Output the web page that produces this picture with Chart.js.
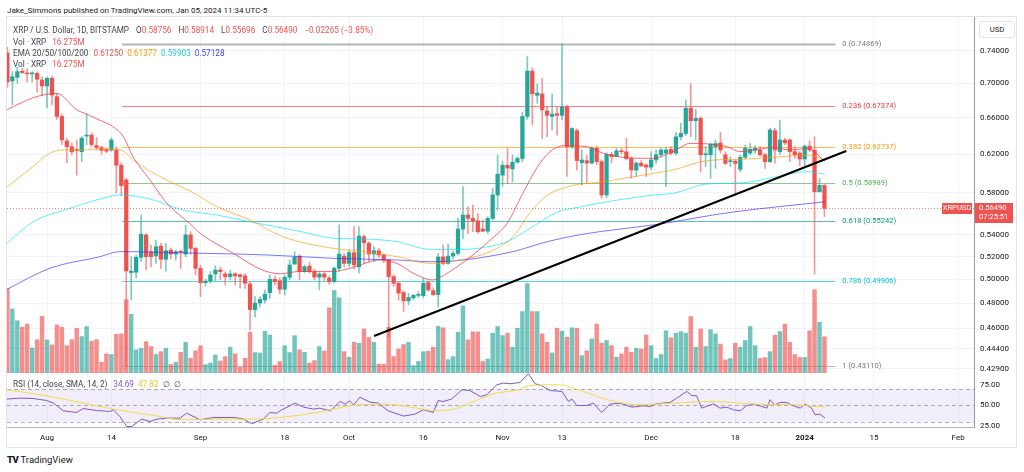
<!DOCTYPE html>
<html>
<head>
<meta charset="utf-8">
<script src="https://cdn.jsdelivr.net/npm/chart.js@4.4.1/dist/chart.umd.min.js"></script>
<style>
  html, body { margin: 0; padding: 0; background: #fff; }
  body { width: 1024px; height: 472px; position: relative; overflow: hidden; font-family: Roboto, "Noto Sans", sans-serif; color: #131722; }
  .abs { position: absolute; white-space: nowrap; }
  .leg { font-size: 8.2px; line-height: 10px; color: #434651; }
  .leg span { margin-left: 4px; }
  .leg span.k { margin-left: 7px; }
  .leg span.v { margin-left: 0; }
  .r { color: #ef5350; } .o { color: #ff9800; } .c { color: #26c6da; } .b { color: #3f3fff; }
  .p { color: #7e57c2; } .y { color: #e9c53a; }
  #frame { position: absolute; left: 6px; top: 16px; width: 1011px; height: 432px; border: 1px solid #e0e3eb; box-sizing: border-box; }
  #c1 { position: absolute; left: 7px; top: 17px; }
  #c2 { position: absolute; left: 7px; top: 373px; }
</style>
</head>
<body>
<div id="frame"></div>
<canvas id="c1" width="1009" height="356"></canvas>
<canvas id="c2" width="1009" height="74"></canvas>

<div class="abs" style="left:7px;top:6px;font-size:8px;color:#131722">Jake_Simmons published on TradingView.com, Jan 05, 2024 11:34 UTC-5</div>
<div class="abs leg" style="left:13px;top:25px">XRP / U.S. Dollar, 1D, BITSTAMP<span class="k">O</span><span class="r v">0.58756</span><span class="k">H</span><span class="r v">0.58914</span><span class="k">L</span><span class="r v">0.55696</span><span class="k">C</span><span class="r v">0.56490</span><span class="r k">−0.02265 (−3.85%)</span></div>
<div class="abs leg" style="left:13px;top:37px">Vol · XRP<span class="r" style="margin-left:6px">16.275M</span></div>
<div class="abs leg" style="left:13px;top:48px">EMA 20/50/100/200<span class="r" style="margin-left:5px">0.61250</span><span class="o">0.61377</span><span class="c">0.59903</span><span class="b">0.57128</span></div>
<div class="abs leg" style="left:13px;top:59px">Vol · XRP<span class="r" style="margin-left:6px">16.275M</span></div>
<div class="abs leg" style="left:13px;top:379px">RSI (14, close, SMA, 14, 2)<span class="p" style="margin-left:6px">34.69</span><span class="y">47.82</span><span>∅</span><span>∅</span></div>
<div class="abs" style="left:979px;top:21px;width:34px;height:15px;border:1px solid #e0e3eb;border-radius:3px;font-size:7.6px;line-height:15px;text-align:center;color:#131722;background:#fff">USD</div>
<div class="abs" style="left:7px;top:454px;font-size:9.5px;color:#131722"><b style="font-weight:900;letter-spacing:-0.5px">TV</b> TradingView</div>

<script>
// days are counted from Aug 1 2023; first candle is Jul 24 2023
const firstDay = -8;
const openP = [
  0.7377, 0.7028, 0.7074, 0.7147, 0.7120, 0.7115, 0.7120, 0.7041, 0.6968, 0.7061,
  0.6842, 0.6614, 0.6342, 0.6280, 0.6250, 0.6226, 0.6395, 0.6405, 0.6290, 0.6270,
  0.6248, 0.6244, 0.6244, 0.6083, 0.5931, 0.5060, 0.5063, 0.5194, 0.5397, 0.5243,
  0.5206, 0.5295, 0.5176, 0.5259, 0.5223, 0.5244, 0.5223, 0.5397, 0.5274, 0.5097,
  0.4973, 0.4988, 0.5048, 0.5082, 0.5048, 0.5025, 0.5048, 0.5040, 0.5031, 0.4962,
  0.4748, 0.4802, 0.4827, 0.4888, 0.5002, 0.4990, 0.4917, 0.5019, 0.5135, 0.5205,
  0.5068, 0.5117, 0.5068, 0.5020, 0.5048, 0.5013, 0.4982, 0.5097, 0.5205, 0.5140,
  0.5236, 0.5110, 0.5381, 0.5320, 0.5223, 0.5253, 0.5215, 0.5170, 0.5025, 0.4968,
  0.4890, 0.4820, 0.4845, 0.4866, 0.4863, 0.4973, 0.4905, 0.4872, 0.5197, 0.5140,
  0.5205, 0.5229, 0.5452, 0.5585, 0.5553, 0.5530, 0.5452, 0.5432, 0.5553, 0.5780,
  0.5980, 0.6082, 0.6045, 0.6115, 0.6153, 0.6614, 0.7149, 0.6857, 0.6874, 0.6677,
  0.6614, 0.6645, 0.6626, 0.6722, 0.6280, 0.6455, 0.6110, 0.6131, 0.6105, 0.6262,
  0.6120, 0.5780, 0.6197, 0.6175, 0.6235, 0.6225, 0.6153, 0.6033, 0.6105, 0.6086,
  0.6063, 0.6138, 0.6193, 0.6210, 0.6251, 0.6210, 0.6387, 0.6424, 0.6708, 0.6566,
  0.6594, 0.6193, 0.6193, 0.6280, 0.6320, 0.6193, 0.6120, 0.6125, 0.6040, 0.6166,
  0.6210, 0.6240, 0.6244, 0.6193, 0.6120, 0.6455, 0.6227, 0.6352, 0.6352, 0.6227,
  0.6210, 0.6148, 0.6285, 0.6244, 0.5812, 0.58756
];
const highP = [
  0.7450, 0.7142, 0.7200, 0.7180, 0.7180, 0.7140, 0.7140, 0.7080, 0.7080, 0.7090,
  0.6880, 0.6640, 0.6370, 0.6320, 0.6352, 0.6390, 0.6642, 0.6430, 0.6380, 0.6290,
  0.6270, 0.6375, 0.6280, 0.6110, 0.5950, 0.5200, 0.5215, 0.5585, 0.5413, 0.5304,
  0.5350, 0.5320, 0.5320, 0.5280, 0.5258, 0.5258, 0.5490, 0.5427, 0.5285, 0.5125,
  0.5002, 0.5068, 0.5118, 0.5110, 0.5068, 0.5080, 0.5060, 0.5050, 0.5050, 0.4980,
  0.4855, 0.4855, 0.4911, 0.5040, 0.5030, 0.5015, 0.5040, 0.5170, 0.5245, 0.5215,
  0.5126, 0.5150, 0.5090, 0.5070, 0.5070, 0.5030, 0.5110, 0.5490, 0.5230, 0.5260,
  0.5474, 0.5476, 0.5397, 0.5335, 0.5290, 0.5275, 0.5225, 0.5180, 0.5040, 0.4980,
  0.4905, 0.4883, 0.4875, 0.4897, 0.5010, 0.4990, 0.4930, 0.5229, 0.5304, 0.5313,
  0.5250, 0.5553, 0.5863, 0.5665, 0.5680, 0.5601, 0.5537, 0.5569, 0.5847, 0.6190,
  0.6120, 0.6260, 0.6190, 0.6173, 0.6660, 0.7329, 0.7190, 0.6996, 0.7060, 0.6726,
  0.6873, 0.6726, 0.74869, 0.6745, 0.6490, 0.6475, 0.6244, 0.6190, 0.6280, 0.6280,
  0.6140, 0.6215, 0.6220, 0.6262, 0.6260, 0.6370, 0.6170, 0.6120, 0.6131, 0.6095,
  0.6226, 0.6244, 0.6262, 0.6270, 0.6280, 0.6434, 0.6537, 0.6803, 0.6996, 0.6697,
  0.6610, 0.6280, 0.6320, 0.6352, 0.6434, 0.6226, 0.6170, 0.6140, 0.6190, 0.6297,
  0.6315, 0.6288, 0.6280, 0.6210, 0.6480, 0.6480, 0.6574, 0.6370, 0.6365, 0.6280,
  0.6230, 0.6300, 0.6344, 0.6388, 0.5948, 0.58914
];
const lowP = [
  0.6950, 0.6745, 0.7000, 0.7120, 0.7017, 0.7017, 0.6897, 0.6850, 0.6710, 0.6745,
  0.6580, 0.6300, 0.6107, 0.6190, 0.5980, 0.6120, 0.6300, 0.6280, 0.6244, 0.6200,
  0.6215, 0.6230, 0.5800, 0.5773, 0.4311, 0.4827, 0.5013, 0.5155, 0.5082, 0.5110,
  0.5140, 0.5097, 0.5073, 0.5180, 0.5170, 0.5097, 0.5199, 0.5220, 0.5040, 0.4855,
  0.4945, 0.4968, 0.4990, 0.4996, 0.4953, 0.5000, 0.4953, 0.4928, 0.4925, 0.4585,
  0.4690, 0.4770, 0.4800, 0.4840, 0.4953, 0.4877, 0.4869, 0.4996, 0.5126, 0.4996,
  0.5060, 0.5055, 0.4996, 0.4911, 0.4990, 0.4960, 0.4968, 0.5070, 0.5110, 0.5110,
  0.5090, 0.5055, 0.5141, 0.5155, 0.5155, 0.5190, 0.5147, 0.4527, 0.4940, 0.4827,
  0.4731, 0.4786, 0.4830, 0.4845, 0.4845, 0.4900, 0.4865, 0.4772, 0.5126, 0.5130,
  0.5180, 0.5215, 0.5365, 0.5412, 0.5427, 0.5412, 0.5427, 0.5412, 0.5537, 0.5633,
  0.5870, 0.5896, 0.5913, 0.6105, 0.6120, 0.6580, 0.6518, 0.6765, 0.6367, 0.6388,
  0.6462, 0.6405, 0.6574, 0.5966, 0.6262, 0.6033, 0.5880, 0.5896, 0.6098, 0.6090,
  0.5747, 0.5750, 0.6105, 0.6170, 0.6200, 0.6138, 0.5948, 0.5966, 0.6068, 0.5966,
  0.6033, 0.6100, 0.6170, 0.5863, 0.6190, 0.6193, 0.6352, 0.6400, 0.6388, 0.6352,
  0.6013, 0.6068, 0.5948, 0.6050, 0.6210, 0.6086, 0.6068, 0.5780, 0.6016, 0.6148,
  0.6190, 0.6210, 0.6175, 0.6050, 0.6110, 0.6105, 0.6193, 0.6300, 0.6120, 0.6155,
  0.6075, 0.6068, 0.6226, 0.5048, 0.5810, 0.55696
];
const closeP = [
  0.7017, 0.7081, 0.7142, 0.7130, 0.7115, 0.7120, 0.7050, 0.6968, 0.7061, 0.6862,
  0.6614, 0.6352, 0.6280, 0.6226, 0.6240, 0.6372, 0.6405, 0.6303, 0.6270, 0.6240,
  0.6232, 0.6352, 0.6083, 0.5874, 0.5074, 0.5072, 0.5194, 0.5404, 0.5200, 0.5200,
  0.5289, 0.5176, 0.5253, 0.5223, 0.5244, 0.5240, 0.5397, 0.5274, 0.5097, 0.4973,
  0.4987, 0.5039, 0.5082, 0.5068, 0.5025, 0.5048, 0.5032, 0.5025, 0.4968, 0.4748,
  0.4802, 0.4833, 0.4876, 0.5002, 0.4982, 0.4917, 0.5019, 0.5126, 0.5194, 0.5068,
  0.5111, 0.5068, 0.5020, 0.5048, 0.5020, 0.4982, 0.5097, 0.5223, 0.5140, 0.5236,
  0.5126, 0.5387, 0.5326, 0.5223, 0.5253, 0.5215, 0.5170, 0.5025, 0.4968, 0.4885,
  0.4820, 0.4848, 0.4866, 0.4872, 0.4968, 0.4911, 0.4872, 0.5197, 0.5140, 0.5205,
  0.5229, 0.5452, 0.5585, 0.5553, 0.5530, 0.5427, 0.5432, 0.5553, 0.5780, 0.5990,
  0.6082, 0.6053, 0.6115, 0.6153, 0.6614, 0.7149, 0.6874, 0.6885, 0.6688, 0.6626,
  0.6640, 0.6626, 0.6722, 0.6280, 0.6478, 0.6131, 0.6138, 0.6105, 0.6262, 0.6120,
  0.5780, 0.6197, 0.6175, 0.6235, 0.6225, 0.6153, 0.6033, 0.6105, 0.6075, 0.6063,
  0.6138, 0.6193, 0.6244, 0.6244, 0.6210, 0.6387, 0.6424, 0.6708, 0.6566, 0.6594,
  0.6193, 0.6200, 0.6306, 0.6314, 0.6244, 0.6102, 0.6125, 0.6102, 0.6166, 0.6262,
  0.6251, 0.6262, 0.6193, 0.6120, 0.6462, 0.6244, 0.6352, 0.6323, 0.6227, 0.6193,
  0.6148, 0.6285, 0.6244, 0.5812, 0.5876, 0.5649
];
// volume, millions of XRP
const volumeM = [
  37.8, 28.8, 23.5, 20.6, 22.0, 11.3, 14.9, 25.5, 14.9, 12.6,
  21.6, 20.6, 12.3, 15.0, 20.1, 16.4, 20.9, 14.3, 15.0, 4.8,
  8.6, 8.3, 17.4, 17.6, 32.9, 26.4, 10.4, 11.1, 14.1, 11.9,
  8.3, 9.6, 11.1, 3.8, 4.8, 9.3, 13.8, 6.6, 10.0, 12.2,
  3.8, 4.5, 8.1, 5.4, 7.4, 11.6, 8.6, 2.6, 6.6, 18.3,
  9.2, 9.0, 18.8, 17.1, 3.5, 5.1, 12.3, 9.2, 16.8, 10.4,
  9.3, 4.5, 5.6, 11.9, 9.9, 29.3, 37.1, 33.8, 9.6, 7.1,
  13.8, 13.4, 19.8, 16.0, 13.8, 4.0, 4.0, 20.6, 7.4, 10.8,
  12.8, 13.8, 3.3, 5.2, 9.6, 9.8, 11.6, 21.0, 20.3, 6.0,
  7.4, 18.3, 30.2, 14.9, 18.5, 18.5, 5.2, 6.3, 17.9, 20.9,
  16.8, 17.9, 11.6, 20.1, 27.6, 40.2, 27.6, 27.6, 17.6, 13.8,
  9.0, 20.1, 18.8, 16.1, 20.3, 20.1, 7.8, 10.0, 15.3, 22.0,
  13.4, 14.6, 12.3, 7.1, 8.6, 11.6, 9.3, 11.1, 10.8, 17.1,
  12.3, 6.5, 8.3, 19.0, 15.8, 17.9, 18.6, 17.9, 25.4, 11.6,
  19.8, 11.9, 19.5, 17.6, 13.0, 5.9, 6.5, 13.4, 11.6, 14.6,
  20.9, 12.3, 6.6, 6.9, 9.6, 17.0, 18.6, 22.0, 13.8, 8.3,
  7.0, 7.0, 19.0, 37.4, 22.8, 16.275
];

// EMA lines at sample days
const ema20Days = [-8.1, -2.8, 0, 2, 6, 8, 10.7, 13.3, 15.4, 17.4, 20.8, 24.2, 28.9, 31, 37.6, 43.6, 47.1, 51.1, 57.8, 61.2, 67.3, 70.7, 73.9, 78, 79.4, 82.8, 86, 89.5, 92.9, 96.1, 99, 101.6, 104.2, 109, 112.3, 115.7, 122.4, 126.4, 129.9, 133.3, 137.3, 140, 143.4, 146.6, 150.1, 153.5, 157.1];
const ema20 = [0.669, 0.683, 0.687, 0.688, 0.669, 0.664, 0.657, 0.650, 0.639, 0.617, 0.593, 0.570, 0.550, 0.541, 0.523, 0.508, 0.505, 0.507, 0.507, 0.5097, 0.517, 0.514, 0.5055, 0.4996, 0.502, 0.511, 0.5215, 0.535, 0.5505, 0.5797, 0.6062, 0.6226, 0.629, 0.628, 0.621, 0.617, 0.6155, 0.6226, 0.6315, 0.631, 0.628, 0.6226, 0.625, 0.627, 0.6244, 0.626, 0.6125];
const ema50Days = [-8.1, -2.8, 0.6, 3.2, 7.3, 12.7, 15.4, 17.4, 24.2, 28.9, 34.3, 41, 47.7, 57.8, 63.8, 70.7, 77.4, 84, 89.5, 94.1, 97.6, 101, 105.6, 112.3, 122.4, 126.4, 133.3, 140, 146.6, 153.5, 157.1];
const ema50 = [0.586, 0.607, 0.621, 0.6244, 0.6244, 0.626, 0.6235, 0.6138, 0.593, 0.582, 0.5667, 0.5537, 0.538, 0.5274, 0.5245, 0.520, 0.514, 0.5176, 0.5245, 0.538, 0.5611, 0.5775, 0.5868, 0.5913, 0.5998, 0.6033, 0.6131, 0.6145, 0.6165, 0.619, 0.6138];
const ema100Days = [-8.1, -2.8, 4, 10.7, 14.7, 20.8, 27.5, 34.3, 41, 51.1, 57.8, 63.8, 70.7, 77.4, 84, 88.9, 92.9, 97.6, 103, 107.7, 122.4, 126.4, 133.3, 140, 146.6, 153.5, 157.1];
const ema100 = [0.532, 0.552, 0.564, 0.574, 0.578, 0.574, 0.5633, 0.5585, 0.552, 0.543, 0.5367, 0.536, 0.5335, 0.5265, 0.5265, 0.5288, 0.5335, 0.546, 0.5611, 0.5664, 0.578, 0.5797, 0.589, 0.590, 0.5955, 0.6016, 0.599];
const ema200Days = [-8.1, 0.6, 10.7, 14.7, 30.9, 44.4, 57.8, 70.7, 77.4, 84, 94.1, 101, 107.7, 123.8, 138, 157.1];
const ema200 = [0.4917, 0.5097, 0.520, 0.5245, 0.523, 0.5215, 0.5185, 0.517, 0.5155, 0.517, 0.5245, 0.5335, 0.540, 0.550, 0.561, 0.5713];

// RSI (14) and its SMA (14), read at sample days
const rsiDays = [-8.1, -5.5, -2.8, -0.1, 1.3, 3.3, 6, 7.3, 10, 12.7, 13.4, 14.7, 16.1, 17.1, 19.1, 20.8, 22.2, 24.2, 26.9, 28.2, 30.9, 33.6, 37.6, 39.6, 41.3, 43.7, 45, 46.4, 47.4, 50.1, 51.8, 53.8, 55.1, 57.2, 59.2, 60.2, 61.1, 61.9, 63.2, 65.2, 66.9, 68.9, 72, 74.3, 76, 78, 79, 80, 81.7, 83.8, 85.4, 87.5, 88.8, 90.8, 92.2, 93.5, 95.5, 97.2, 98.6, 99.9, 101.6, 104, 105.3, 106, 107, 109, 110.3, 112, 113.7, 115.7, 118.1, 120.4, 121.8, 123.1, 125.8, 127.2, 129.2, 130.2, 131.2, 132.2, 133.5, 134.6, 135.9, 137.3, 138.6, 140, 141.3, 142.7, 145.4, 146, 147, 148, 149.4, 150.7, 152.1, 153.1, 154.4, 155.1, 156.1, 157.1];
const rsiVals = [57.8, 59.0, 58.5, 56.1, 52.9, 43.5, 41.5, 46.3, 43.9, 42.7, 44.8, 36.6, 24.4, 24.4, 33.4, 30.5, 33.4, 34.6, 34.6, 40.7, 32.6, 35.4, 35.4, 33.8, 27.7, 33.4, 41.5, 40.7, 44.8, 52.9, 48.0, 45.6, 46.8, 43.5, 54.9, 51.7, 55.7, 50.9, 60.2, 54.1, 52.9, 43.5, 37.1, 39.5, 44.8, 41.5, 56.1, 54.9, 57.8, 69.1, 68.3, 61.0, 63.0, 75.2, 77.3, 76.5, 78.0, 88.7, 76.5, 74.0, 68.3, 67.1, 54.9, 57.8, 50.0, 50.0, 52.9, 41.5, 51.7, 52.9, 48.0, 49.6, 48.8, 52.1, 53.7, 59.0, 67.1, 62.2, 61.8, 46.8, 49.6, 52.1, 46.8, 48.0, 44.8, 43.5, 50.0, 51.7, 46.8, 57.0, 50.9, 53.7, 53.7, 49.6, 46.8, 51.7, 46.8, 38.7, 39.5, 34.69];
const smaDays = [-8.1, -0.1, 7.3, 14.1, 20.8, 27.5, 34.3, 41, 47.7, 54.5, 61.2, 68, 74.7, 78, 82.1, 86.1, 90.8, 95.2, 97.5, 103.3, 108.3, 113.7, 119.8, 126.5, 134.6, 142.7, 150.7, 157.1];
const smaVals = [69.1, 61.8, 52.9, 44.8, 38.7, 32.6, 33.4, 33.4, 35.8, 41.5, 49.6, 51.7, 46.8, 43.9, 45.6, 54.9, 65.1, 69.1, 74.4, 75.2, 67.1, 56.1, 50.9, 52.9, 54.9, 51.7, 50.9, 47.82];

// Fibonacci retracement drawn on the chart
const fibLevels = ['0', '0.236', '0.382', '0.5', '0.618', '0.786', '1'];
const fibPrices = [0.74869, 0.67374, 0.62737, 0.58989, 0.55242, 0.49906, 0.43110];
const fibColors = ['#9598a1', '#f23645', '#ff9800', '#4caf50', '#089981', '#00bcd4', '#9598a1'];
const fibStartDay = 15.15, fibEndDay = 159.2;
// hand-drawn trend line
const trendDays = [66.05, 161.4];
const trendPrices = [0.4538, 0.6233];

const priceTicks = [0.429, 0.444, 0.46, 0.48, 0.50, 0.52, 0.54, 0.58, 0.62, 0.66, 0.70, 0.74];
const dateTickDays = [0, 13, 31, 48, 61, 76, 92, 104, 122, 139, 153, 167, 184];
const dateTickLabels = ['Aug', '14', 'Sep', '18', 'Oct', '16', 'Nov', '13', 'Dec', '18', '2024', '15', 'Feb'];

const X_MIN = -8.08, X_MAX = 187.2;
const GREEN = '#26a69a', RED = '#ef5350';
const FONT = 'Roboto, "Noto Sans", sans-serif';
const GRID = '#f0f3fa';

const days = openP.map((_, i) => firstDay + i);
const isUp = i => closeP[i] >= openP[i];
// keep the plot area exactly at the canvas edges
const noPad = s => { s.paddingTop = 0; s.paddingBottom = 0; s.paddingLeft = 0; s.paddingRight = 0; };

const overlay1 = {
  id: 'overlay1',
  beforeDatasetsDraw(chart) {
    const { ctx, chartArea: a, scales: { x, y } } = chart;
    ctx.save();
    const x0 = x.getPixelForValue(fibStartDay), x1 = x.getPixelForValue(fibEndDay);
    ctx.font = '7.6px ' + FONT;
    ctx.textBaseline = 'middle';
    fibLevels.forEach((lvl, i) => {
      const py = Math.round(y.getPixelForValue(fibPrices[i])) + 0.5;
      ctx.globalAlpha = i === 0 ? 0.7 : 0.65;
      ctx.strokeStyle = fibColors[i];
      ctx.lineWidth = i === 0 ? 2 : 1;
      ctx.beginPath(); ctx.moveTo(x0, py); ctx.lineTo(x1, py); ctx.stroke();
      ctx.globalAlpha = 1;
      ctx.fillStyle = fibColors[i] === '#9598a1' ? '#787b86' : fibColors[i];
      ctx.fillText(lvl + ' (' + fibPrices[i].toFixed(5) + ')', x1 + 7, py);
    });
    // last price dotted line
    const lp = Math.round(y.getPixelForValue(closeP[closeP.length - 1])) + 0.5;
    ctx.strokeStyle = 'rgba(239,83,80,0.75)';
    ctx.lineWidth = 1;
    ctx.setLineDash([1, 2]);
    ctx.beginPath(); ctx.moveTo(a.left, lp); ctx.lineTo(a.right, lp); ctx.stroke();
    ctx.restore();
  },
  afterDraw(chart) {
    const { ctx, chartArea: a, scales: { y } } = chart;
    const last = closeP[closeP.length - 1];
    const lp = Math.round(y.getPixelForValue(last));
    ctx.save();
    ctx.fillStyle = RED;
    ctx.fillRect(a.right - 32, lp - 5, 30, 11);
    ctx.fillRect(a.right + 1, lp - 5, 38, 20);
    ctx.fillStyle = '#fff';
    ctx.font = '7.6px ' + FONT;
    ctx.textBaseline = 'middle';
    ctx.textAlign = 'center';
    ctx.fillText('XRPUSD', a.right - 17, lp + 0.5);
    ctx.textAlign = 'left';
    ctx.fillText(last.toFixed(5), a.right + 5, lp + 0.5);
    ctx.fillText('07:25:51', a.right + 5, lp + 9.5);
    ctx.restore();
  }
};

new Chart(document.getElementById('c1'), {
  type: 'bar',
  data: {
    datasets: [
      {
        label: 'Volume', yAxisID: 'vol', order: 10, grouped: false, barThickness: 3.8,
        data: volumeM.map((v, i) => ({ x: days[i], y: v })),
        backgroundColor: volumeM.map((v, i) => isUp(i) ? 'rgba(38,166,154,0.65)' : 'rgba(239,83,80,0.65)')
      },
      {
        label: 'Wicks', yAxisID: 'y', order: 6, grouped: false, barThickness: 1,
        data: lowP.map((v, i) => ({ x: days[i], y: [v, highP[i]] })),
        backgroundColor: openP.map((v, i) => isUp(i) ? 'rgba(38,166,154,0.6)' : 'rgba(239,83,80,0.6)')
      },
      {
        label: 'Bodies', yAxisID: 'y', order: 5, grouped: false, barThickness: 3.6, minBarLength: 1,
        data: openP.map((v, i) => ({ x: days[i], y: [v, closeP[i]] })),
        backgroundColor: openP.map((v, i) => isUp(i) ? GREEN : RED)
      },
      { type: 'line', label: 'EMA20', yAxisID: 'y', order: 3, data: ema20Days.map((d, i) => ({ x: d, y: ema20[i] })), borderColor: 'rgba(242,54,69,0.75)', borderWidth: 1, pointRadius: 0, cubicInterpolationMode: 'monotone' },
      { type: 'line', label: 'EMA50', yAxisID: 'y', order: 3, data: ema50Days.map((d, i) => ({ x: d, y: ema50[i] })), borderColor: 'rgba(255,152,0,0.65)', borderWidth: 1, pointRadius: 0, cubicInterpolationMode: 'monotone' },
      { type: 'line', label: 'EMA100', yAxisID: 'y', order: 3, data: ema100Days.map((d, i) => ({ x: d, y: ema100[i] })), borderColor: 'rgba(0,229,255,0.65)', borderWidth: 1, pointRadius: 0, cubicInterpolationMode: 'monotone' },
      { type: 'line', label: 'EMA200', yAxisID: 'y', order: 3, data: ema200Days.map((d, i) => ({ x: d, y: ema200[i] })), borderColor: 'rgba(48,48,255,0.65)', borderWidth: 1, pointRadius: 0, cubicInterpolationMode: 'monotone' },
      { type: 'line', label: 'Trend', yAxisID: 'y', order: 1, data: trendDays.map((d, i) => ({ x: d, y: trendPrices[i] })), borderColor: '#000', borderWidth: 2, pointRadius: 0 }
    ]
  },
  options: {
    responsive: false, animation: false, events: [],
    layout: { padding: 0 },
    plugins: { legend: { display: false }, tooltip: { enabled: false } },
    scales: {
      x: {
        type: 'linear', min: X_MIN, max: X_MAX, offset: false,
        afterBuildTicks: s => { s.ticks = dateTickDays.map(v => ({ value: v })); },
        ticks: { display: false },
        grid: { color: GRID, drawTicks: false, offset: false },
        border: { display: true, color: '#d1d4dc' },
        afterFit: s => { s.height = 0; noPad(s); }
      },
      y: {
        type: 'logarithmic', position: 'right', min: 0.4259, max: 0.7844, bounds: 'data',
        afterBuildTicks: s => { s.ticks = priceTicks.map(v => ({ value: v })); },
        ticks: { callback: v => Number(v).toFixed(5), font: { family: FONT, size: 8 }, color: '#131722', padding: 6, autoSkip: false },
        grid: { color: GRID, drawTicks: false },
        border: { display: true, color: '#9598a1' },
        afterFit: s => { s.width = 42; noPad(s); }
      },
      vol: { type: 'linear', display: false, min: 0, max: 160 }
    }
  },
  plugins: [overlay1]
});

const rsiBands = {
  id: 'rsiBands',
  beforeDatasetsDraw(chart) {
    const { ctx, chartArea: a, scales: { y } } = chart;
    const y70 = y.getPixelForValue(70), y50 = y.getPixelForValue(50), y30 = y.getPixelForValue(30);
    ctx.save();
    ctx.fillStyle = 'rgba(126,87,194,0.1)';
    ctx.fillRect(a.left, y70, a.right - a.left, y30 - y70);
    ctx.strokeStyle = 'rgba(120,123,134,0.6)';
    ctx.lineWidth = 1;
    ctx.setLineDash([4, 3]);
    [y70, y50, y30].forEach(py => {
      const p = Math.round(py) + 0.5;
      ctx.beginPath(); ctx.moveTo(a.left, p); ctx.lineTo(a.right, p); ctx.stroke();
    });
    ctx.restore();
  }
};

new Chart(document.getElementById('c2'), {
  type: 'line',
  data: {
    datasets: [
      { label: 'RSI-based MA', data: smaDays.map((d, i) => ({ x: d, y: smaVals[i] })), borderColor: '#f5d94a', borderWidth: 1, pointRadius: 0, cubicInterpolationMode: 'monotone' },
      { label: 'RSI', data: rsiDays.map((d, i) => ({ x: d, y: rsiVals[i] })), borderColor: '#7e57c2', borderWidth: 1, pointRadius: 0, tension: 0 }
    ]
  },
  options: {
    responsive: false, animation: false, events: [],
    layout: { padding: 0 },
    plugins: { legend: { display: false }, tooltip: { enabled: false } },
    scales: {
      x: {
        type: 'linear', min: X_MIN, max: X_MAX,
        afterBuildTicks: s => { s.ticks = dateTickDays.map(v => ({ value: v })); },
        ticks: {
          autoSkip: false, maxRotation: 0, padding: 6, color: '#131722',
          callback: (v, i) => dateTickLabels[i],
          font: ctx => ({ family: FONT, size: 8, weight: ctx.index === 10 ? 'bold' : 'normal' })
        },
        grid: { color: GRID, drawTicks: false },
        border: { display: true, color: '#b2b5be' },
        afterFit: s => { s.height = 20; noPad(s); }
      },
      y: {
        position: 'right', min: 23.8, max: 89.6,
        afterBuildTicks: s => { s.ticks = [25, 50, 75].map(v => ({ value: v })); },
        ticks: { callback: v => Number(v).toFixed(2), font: { family: FONT, size: 8 }, color: '#131722', padding: 6 },
        grid: { display: false, drawTicks: false },
        border: { display: true, color: '#9598a1' },
        afterFit: s => { s.width = 42; noPad(s); }
      }
    }
  },
  plugins: [rsiBands]
});
</script>
</body>
</html>
